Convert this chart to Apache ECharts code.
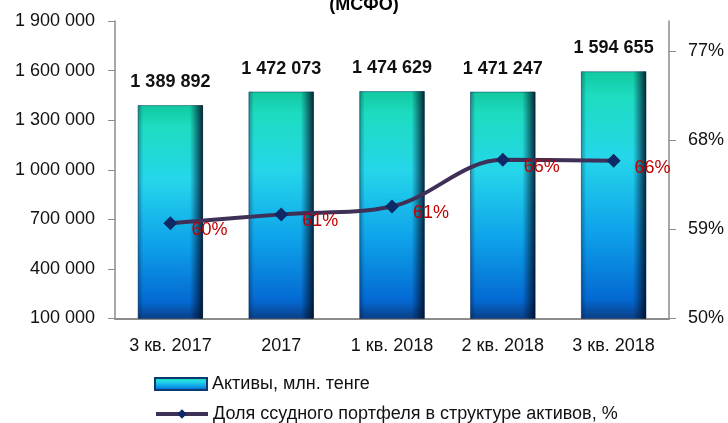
<!DOCTYPE html>
<html>
<head>
<meta charset="utf-8">
<script src="https://cdn.jsdelivr.net/npm/echarts@6/dist/echarts.min.js"></script>
<style>
  html, body { margin: 0; padding: 0; background: #fff; }
  #chart { width: 728px; height: 423px; }
</style>
</head>
<body>
<div id="chart"></div>
<script>
const categories = ['3 кв. 2017', '2017', '1 кв. 2018', '2 кв. 2018', '3 кв. 2018'];
const assets = [1389892, 1472073, 1474629, 1471247, 1594655];
const loanShare = [59.6, 60.5, 61.3, 66.0, 65.9];
const leftTicks = [100000, 400000, 700000, 1000000, 1300000, 1600000, 1900000];
const rightTicks = [50, 59, 68, 77];
const barName = 'Активы, млн. тенге';
const lineName = 'Доля ссудного портфеля в структуре активов, %';

const font = '"Liberation Sans", Arial, sans-serif';
const fmtNum = v => String(v).replace(/\B(?=(\d{3})+(?!\d))/g, ' ');

const chart = echarts.init(document.getElementById('chart'));

const barGradient = new echarts.graphic.LinearGradient(0, 0, 0, 1, [
    { offset: 0, color: '#12c9a0' },
    { offset: 0.1, color: '#1ddcc0' },
    { offset: 0.35, color: '#25d6ea' },
    { offset: 0.65, color: '#0ea2ea' },
    { offset: 0.92, color: '#0469d2' },
    { offset: 1, color: '#0a3f86' }
]);
// dark edges of the bars
const edgeGradient = new echarts.graphic.LinearGradient(0, 0, 1, 0, [
    { offset: 0, color: 'rgba(0,20,50,0.35)' },
    { offset: 0.08, color: 'rgba(0,20,50,0)' },
    { offset: 0.8, color: 'rgba(0,20,50,0)' },
    { offset: 1, color: 'rgba(0,10,30,0.85)' }
]);

const legendBase = {
    left: 149,
    itemWidth: 52,
    itemHeight: 12,
    textStyle: { fontFamily: font, fontSize: 18, color: '#111' }
};

const option = {
    animation: false,
    textStyle: { fontFamily: font },
    title: {
        text: '(МСФО)',
        left: 'center',
        top: -9,
        textStyle: { fontFamily: font, fontSize: 18, fontWeight: 'bold', color: '#000' }
    },
    grid: { left: 115, right: 59, top: 21, bottom: 104.5 },
    legend: [
        { ...legendBase, data: [{ name: barName, icon: 'rect' }], top: 370 },
        { ...legendBase, data: [lineName], top: 400, lineStyle: { width: 4, color: '#3e3056' } }
    ],
    xAxis: {
        type: 'category',
        data: categories,
        axisLine: { lineStyle: { color: '#8c8c8c', width: 2 } },
        axisTick: { show: false },
        axisLabel: { fontFamily: font, fontSize: 18, color: '#111', margin: 19 }
    },
    yAxis: [
        {
            type: 'value',
            min: 100000,
            max: 1900000,
            splitLine: { show: false },
            axisLine: { show: true, lineStyle: { color: '#8c8c8c', width: 1.5 } },
            axisTick: { show: true, length: 7, customValues: leftTicks, lineStyle: { color: '#8c8c8c' } },
            axisLabel: {
                customValues: leftTicks,
                formatter: v => fmtNum(v),
                fontFamily: font, fontSize: 18, color: '#111', margin: 20
            }
        },
        {
            type: 'value',
            min: 50,
            max: 80,
            position: 'right',
            splitLine: { show: false },
            axisLine: { show: true, lineStyle: { color: '#8c8c8c', width: 1.5 } },
            axisTick: { show: true, length: 7, customValues: rightTicks, lineStyle: { color: '#8c8c8c' } },
            axisLabel: {
                customValues: rightTicks,
                formatter: v => v + '%',
                fontFamily: font, fontSize: 18, color: '#111', margin: 19
            }
        }
    ],
    series: [
        {
            name: barName,
            type: 'bar',
            data: assets,
            barWidth: 65,
            itemStyle: { color: barGradient, borderColor: '#0b3a6e', borderWidth: 0.5 },
            label: {
                show: true,
                position: 'top',
                distance: 14,
                formatter: p => fmtNum(p.value),
                fontFamily: font, fontSize: 18, fontWeight: 'bold', color: '#111'
            },
            z: 2
        },
        {
            name: 'edge',
            type: 'bar',
            data: assets,
            barWidth: 65,
            barGap: '-100%',
            silent: true,
            itemStyle: { color: edgeGradient },
            z: 3
        },
        {
            name: lineName,
            type: 'line',
            yAxisIndex: 1,
            data: loanShare,
            smooth: 0.35,
            symbol: 'diamond',
            symbolSize: 14,
            lineStyle: { color: '#3e3056', width: 4 },
            itemStyle: { color: '#0d2966' },
            label: {
                show: true,
                position: 'right',
                distance: 4,
                offset: [10, 7],
                formatter: p => Math.round(p.value) + '%',
                fontFamily: font, fontSize: 18, color: '#c00000'
            },
            z: 5
        }
    ]
};

chart.setOption(option);
</script>
</body>
</html>
